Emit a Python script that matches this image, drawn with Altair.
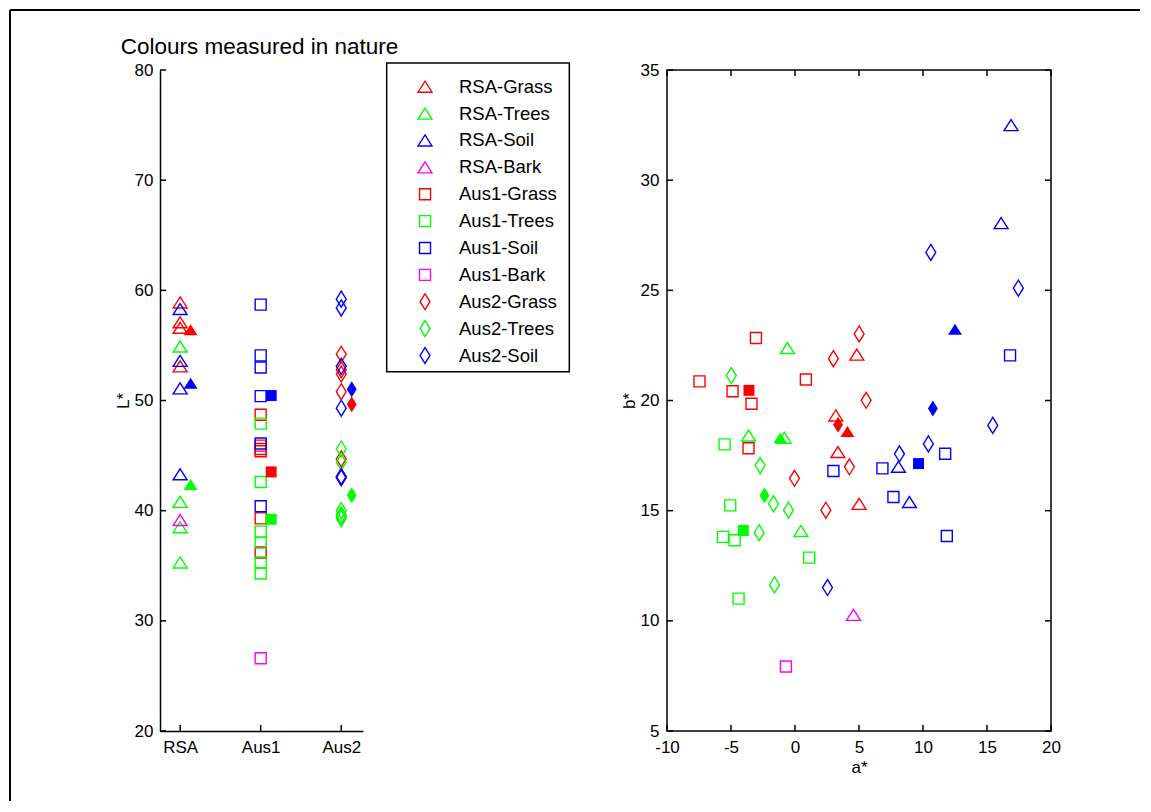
import altair as alt
import pandas as pd

SERIES = ["RSA-Grass", "RSA-Trees", "RSA-Soil", "RSA-Bark",
          "Aus1-Grass", "Aus1-Trees", "Aus1-Soil", "Aus1-Bark",
          "Aus2-Grass", "Aus2-Trees", "Aus2-Soil"]
SITES = ["RSA", "Aus1", "Aus2"]
KINDS = ["Grass", "Trees", "Soil", "Bark"]
KIND_COLORS = ["#ff0000", "#00ff00", "#0000ff", "#ff00ff"]
SITE_SHAPES = ["M0,-1L1.27,1L-1.27,1Z", "square", "M0,-1.45L0.9,0L0,1.45L-0.9,0Z"]

L_TICKS = [20, 30, 40, 50, 60, 70, 80]
SITE_TICKS = [1, 2, 3]
A_TICKS = [-10, -5, 0, 5, 10, 15, 20]
B_TICKS = [5, 10, 15, 20, 25, 30, 35]

# L* (left panel)
RSA_GRASS_L = [58.9, 57.1, 56.6, 53.1]
RSA_TREES_L = [54.9, 40.8, 38.5, 35.3]
RSA_SOIL_L = [58.3, 53.6, 51.1, 43.3]
RSA_BARK_L = [39.15]
AUS1_GRASS_L = [48.7, 45.9, 45.6, 45.4, 39.3, 36.2]
AUS1_TREES_L = [47.9, 42.6, 38.1, 37.1, 35.3, 34.3]
AUS1_SOIL_L = [58.7, 54.1, 53.0, 50.4, 46.1, 40.4]
AUS1_BARK_L = [26.6]
AUS2_GRASS_L = [54.2, 52.8, 52.4, 50.8, 44.7, 43.0]
AUS2_TREES_L = [45.6, 44.4, 40.0, 39.6, 39.5, 39.3]
AUS2_SOIL_L = [59.2, 58.4, 53.1, 49.3, 43.1, 43.0]

# a*, b* (right panel)
RSA_GRASS_A = [4.83, 3.19, 3.35, 5.01]
RSA_GRASS_B = [22.08, 19.32, 17.66, 15.31]
RSA_TREES_A = [-0.59, -3.63, -0.84, 0.46]
RSA_TREES_B = [22.38, 18.41, 18.31, 14.08]
RSA_SOIL_A = [16.88, 16.10, 8.08, 8.94]
RSA_SOIL_B = [32.50, 28.05, 16.99, 15.39]
RSA_BARK_A = [4.57]
RSA_BARK_B = [10.27]
AUS1_GRASS_A = [-3.05, -7.46, -4.88, -3.40, 0.85, -3.63]
AUS1_GRASS_B = [22.84, 20.87, 20.42, 19.85, 20.95, 17.83]
AUS1_TREES_A = [-5.50, -5.06, -5.63, -4.72, 1.11, -4.41]
AUS1_TREES_B = [18.01, 15.24, 13.81, 13.66, 12.87, 11.01]
AUS1_SOIL_A = [16.80, 11.73, 6.83, 7.69, 11.86, 3.00]
AUS1_SOIL_B = [22.05, 17.58, 16.92, 15.62, 13.85, 16.80]
AUS1_BARK_A = [-0.71]
AUS1_BARK_B = [7.93]
AUS2_GRASS_A = [5.01, 3.00, 5.56, 4.25, -0.04, 2.41]
AUS2_GRASS_B = [23.02, 21.90, 20.01, 16.99, 16.47, 15.02]
AUS2_TREES_A = [-4.98, -2.72, -1.68, -0.51, -2.80, -1.60]
AUS2_TREES_B = [21.13, 17.05, 15.31, 15.02, 14.00, 11.63]
AUS2_SOIL_A = [10.61, 17.45, 15.45, 10.42, 8.16, 2.54]
AUS2_SOIL_B = [26.72, 25.10, 18.87, 18.03, 17.58, 11.51]

GROUPS = [
    ("RSA-Grass", RSA_GRASS_L, RSA_GRASS_A, RSA_GRASS_B),
    ("RSA-Trees", RSA_TREES_L, RSA_TREES_A, RSA_TREES_B),
    ("RSA-Soil", RSA_SOIL_L, RSA_SOIL_A, RSA_SOIL_B),
    ("RSA-Bark", RSA_BARK_L, RSA_BARK_A, RSA_BARK_B),
    ("Aus1-Grass", AUS1_GRASS_L, AUS1_GRASS_A, AUS1_GRASS_B),
    ("Aus1-Trees", AUS1_TREES_L, AUS1_TREES_A, AUS1_TREES_B),
    ("Aus1-Soil", AUS1_SOIL_L, AUS1_SOIL_A, AUS1_SOIL_B),
    ("Aus1-Bark", AUS1_BARK_L, AUS1_BARK_A, AUS1_BARK_B),
    ("Aus2-Grass", AUS2_GRASS_L, AUS2_GRASS_A, AUS2_GRASS_B),
    ("Aus2-Trees", AUS2_TREES_L, AUS2_TREES_A, AUS2_TREES_B),
    ("Aus2-Soil", AUS2_SOIL_L, AUS2_SOIL_A, AUS2_SOIL_B),
]

rows = []
for name, Ls, As, Bs in GROUPS:
    site, kind = name.split("-")
    for L, a, b in zip(Ls, As, Bs):
        rows.append(dict(series=name, site=site, kind=kind,
                         site_idx=SITES.index(site) + 1, L=L, a=a, b=b))
df = pd.DataFrame(rows)

leg_df = pd.DataFrame([dict(series=s, site=s.split("-")[0], kind=s.split("-")[1]) for s in SERIES])
one = pd.DataFrame({"k": [0]})

FONT = "Liberation Sans"
FS = 17
MS = 121
SW = 1.4
W1, W2, H = 203, 384, 661

color = alt.Color("kind:N", scale=alt.Scale(domain=KINDS, range=KIND_COLORS), legend=None)
shape = alt.Shape("site:N", scale=alt.Scale(domain=SITES, range=SITE_SHAPES), legend=None)

ax_common = dict(grid=False, ticks=False, tickSize=0, labelFontSize=FS, titleFontSize=FS,
                 labelColor="black", titleColor="black", titleFontWeight="normal",
                 labelFont=FONT, titleFont=FONT, labelFlush=False, labelOverlap=False)

# ---------------- left panel ----------------
x1_scale = alt.Scale(domain=[0.75, 3.27], nice=False, zero=False)
y1_scale = alt.Scale(domain=[20, 80], nice=False, zero=False)
x1_axis = alt.Axis(values=SITE_TICKS, title=None, labelPadding=8,
                   labelExpr="datum.value == 1 ? 'RSA' : (datum.value == 2 ? 'Aus1' : 'Aus2')",
                   domain=True, domainColor="black", domainWidth=1.5, **ax_common)
y1_axis = alt.Axis(values=L_TICKS, title="L*", labelPadding=7, titlePadding=2,
                   labelExpr="'' + datum.value",
                   domain=True, domainColor="black", domainWidth=1.5, **ax_common)

base1 = alt.Chart(df)
open1 = base1.mark_point(filled=False, opacity=1, size=MS, strokeWidth=SW).encode(
    x=alt.X("site_idx:Q", scale=x1_scale, axis=x1_axis),
    y=alt.Y("L:Q", scale=y1_scale, axis=y1_axis),
    color=color, shape=shape)
mean1 = base1.transform_filter("datum.kind != 'Bark'").transform_aggregate(
    L="mean(L)", groupby=["series", "site", "kind", "site_idx"]
).transform_calculate(xm="datum.site_idx + 0.13").mark_point(
    filled=True, opacity=1, size=MS).encode(
    x=alt.X("xm:Q", scale=x1_scale, axis=x1_axis),
    y=alt.Y("L:Q", scale=y1_scale, axis=y1_axis),
    color=color, shape=shape)
yt1 = alt.Chart(pd.DataFrame({"t": L_TICKS})).mark_rule(color="black", strokeWidth=1.5).encode(
    y=alt.Y("t:Q", scale=y1_scale, axis=y1_axis), x=alt.value(0), x2=alt.value(6))
xt1 = alt.Chart(pd.DataFrame({"t": SITE_TICKS})).mark_rule(color="black", strokeWidth=1.5).encode(
    x=alt.X("t:Q", scale=x1_scale, axis=x1_axis), y=alt.value(H), y2=alt.value(H - 6))
title1 = alt.Chart(one).mark_text(text="Colours measured in nature", font=FONT, fontSize=22.5,
                                  align="center", baseline="alphabetic", color="black").encode(
    x=alt.value(99.5), y=alt.value(-16))
frame_left = alt.Chart(one).mark_rule(color="black", strokeWidth=2).encode(
    x=alt.value(-150), y=alt.value(-60), y2=alt.value(731))
frame_top = alt.Chart(one).mark_rule(color="black", strokeWidth=2).encode(
    x=alt.value(-150), x2=alt.value(980), y=alt.value(-60))

main1 = alt.layer(frame_left, frame_top, title1, yt1, xt1, open1, mean1)

leg_y = alt.Y("series:N", scale=alt.Scale(type="point", domain=SERIES, range=[16.7, 285.5], padding=0),
              axis=None)
leg_box = alt.Chart(one).mark_rect(fill="white", stroke="black", strokeWidth=1.5).encode(
    x=alt.value(226.7), x2=alt.value(409.3), y=alt.value(-7), y2=alt.value(301.7))
leg_sym = alt.Chart(leg_df).mark_point(filled=False, opacity=1, size=MS, strokeWidth=SW).encode(
    x=alt.value(265), y=leg_y, color=color, shape=shape)
leg_txt = alt.Chart(leg_df).mark_text(font=FONT, fontSize=18.5, align="left", baseline="middle",
                                      color="black").encode(
    x=alt.value(299), y=leg_y, text="series:N")
legend = alt.layer(leg_box, leg_sym, leg_txt)

left = alt.layer(main1, legend).resolve_scale(y="independent").properties(
    width=W1, height=H, view=alt.ViewBackground(stroke="transparent"))

# ---------------- right panel ----------------
x2_scale = alt.Scale(domain=[-10, 20], nice=False, zero=False)
y2_scale = alt.Scale(domain=[5, 35], nice=False, zero=False)
x2_axis = alt.Axis(values=A_TICKS, title="a*", labelPadding=8, titlePadding=4, domain=False,
                   labelExpr="'' + datum.value", **ax_common)
y2_axis = alt.Axis(values=B_TICKS, title="b*", labelPadding=8, titlePadding=2, domain=False,
                   labelExpr="'' + datum.value", **ax_common)

base2 = alt.Chart(df)
open2 = base2.mark_point(filled=False, opacity=1, size=MS, strokeWidth=SW).encode(
    x=alt.X("a:Q", scale=x2_scale, axis=x2_axis),
    y=alt.Y("b:Q", scale=y2_scale, axis=y2_axis),
    color=color, shape=shape)
mean2 = base2.transform_filter("datum.kind != 'Bark'").transform_aggregate(
    a="mean(a)", b="mean(b)", groupby=["series", "site", "kind"]
).mark_point(filled=True, opacity=1, size=MS).encode(
    x=alt.X("a:Q", scale=x2_scale, axis=x2_axis),
    y=alt.Y("b:Q", scale=y2_scale, axis=y2_axis),
    color=color, shape=shape)
bt = pd.DataFrame({"t": B_TICKS})
at = pd.DataFrame({"t": A_TICKS})
yt2l = alt.Chart(bt).mark_rule(color="black", strokeWidth=1.5).encode(
    y=alt.Y("t:Q", scale=y2_scale, axis=y2_axis), x=alt.value(0), x2=alt.value(6))
yt2r = alt.Chart(bt).mark_rule(color="black", strokeWidth=1.5).encode(
    y=alt.Y("t:Q", scale=y2_scale, axis=y2_axis), x=alt.value(W2 - 6), x2=alt.value(W2))
xt2b = alt.Chart(at).mark_rule(color="black", strokeWidth=1.5).encode(
    x=alt.X("t:Q", scale=x2_scale, axis=x2_axis), y=alt.value(H), y2=alt.value(H - 6))
xt2t = alt.Chart(at).mark_rule(color="black", strokeWidth=1.5).encode(
    x=alt.X("t:Q", scale=x2_scale, axis=x2_axis), y=alt.value(0), y2=alt.value(6))

right = alt.layer(yt2l, yt2r, xt2b, xt2t, open2, mean2).properties(
    width=W2, height=H, view=alt.ViewBackground(stroke="black", strokeWidth=1.5))

chart = alt.hconcat(left, right, spacing=304, bounds="flush").properties(
    padding=0, background="white"
).configure(font=FONT)

chart.save("out.html", embed_options={"renderer": "svg", "actions": False})
